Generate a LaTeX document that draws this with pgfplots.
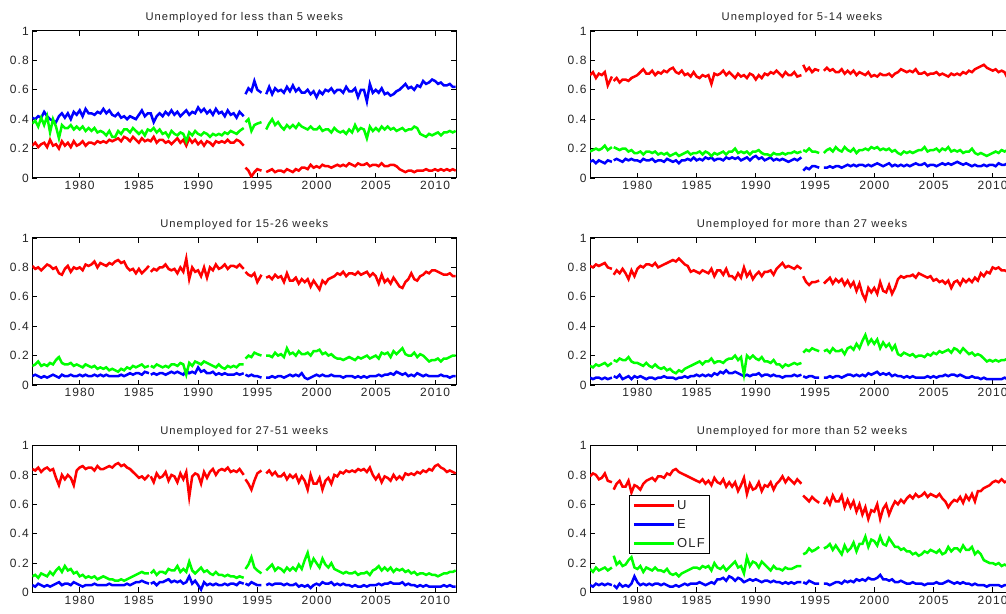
\documentclass[border=0pt]{standalone}
\usepackage{fontspec}
\setmainfont{Liberation Sans}
\newfontfamily\spfont[LetterSpace=9]{Liberation Sans}
\usepackage{pgfplots}
\usepackage{pgfplotstable}
\pgfplotsset{compat=1.18}

\pgfplotstableread{
x U E O
1976 .22 .41 .37
1976.25 .24 .40 .39
1976.5 .21 .42 .35
1976.75 .23 .41 .41
1977 .24 .45 .36
1977.25 .21 .42 .42
1977.5 .26 .40 .31
1977.75 .22 .39 .40
1978 .23 .38 .35
1978.25 .20 .42 .27
1978.5 .25 .44 .36
1978.75 .22 .41 .34
1979 .24 .44 .34
1979.25 .21 .40 .36
1979.5 .25 .45 .33
1979.75 .22 .43 .35
1980 .23 .46 .33
1980.25 .25 .42 .35
1980.5 .22 .47 .32
1980.75 .24 .44 .34
1981 .24 .44 .32
1981.25 .23 .43 .34
1981.5 .25 .45 .31
1981.75 .24 .44 .32
1982 .25 .47 .31
1982.25 .24 .44 .29
1982.5 .26 .46 .32
1982.75 .25 .43 .28
1983 .26 .42 .28
1983.25 .27 .44 .32
1983.5 .25 .41 .30
1983.75 .28 .42 .33
1984 .27 .40 .33
1984.25 .25 .42 .31
1984.5 .28 .41 .34
1984.75 .26 .40 .32
1985 .24 .43 .30
1985.25 .27 .46 .32
1985.5 .25 .42 .29
1985.75 .26 .44 .33
1986 .25 .44 .32
1986.25 .28 .38 .34
1986.5 .24 .42 .31
1986.75 .26 .44 .33
1987 .26 .42 .30
1987.25 .24 .45 .31
1987.5 .25 .43 .28
1987.75 .23 .46 .32
1988 .25 .43 .30
1988.25 .27 .45 .29
1988.5 .24 .42 .31
1988.75 .26 .44 .30
1989 .22 .46 .25
1989.25 .27 .43 .31
1989.5 .24 .45 .29
1989.75 .26 .44 .32
1990 .23 .48 .30
1990.25 .25 .45 .29
1990.5 .22 .47 .31
1990.75 .25 .44 .30
1991 .24 .46 .28
1991.25 .22 .43 .30
1991.5 .25 .47 .29
1991.75 .24 .44 .30
1992 .25 .45 .29
1992.25 .24 .42 .31
1992.5 .26 .46 .30
1992.75 .24 .43 .32
1993 .24 .44 .31
1993.25 .26 .41 .30
1993.5 .25 .45 .32
1993.85 .22 .42 .34
1993.93 nan nan nan
1994 .07 .57 .38
1994.25 .05 .61 .40
1994.5 .01 .59 .32
1994.75 .04 .66 .36
1995 .06 .60 .37
1995.35 .05 .58 .38
1995.5 nan nan nan
1995.75 .04 .57 .33
1996 .05 .62 .37
1996.25 .06 .57 .40
1996.5 .04 .61 .36
1996.75 .05 .59 .38
1997 .05 .60 .35
1997.25 .04 .58 .33
1997.5 .06 .62 .36
1997.75 .05 .59 .34
1998 .04 .63 .36
1998.25 .06 .59 .34
1998.5 .05 .61 .37
1998.75 .07 .58 .35
1999 .07 .58 .34
1999.25 .06 .60 .33
1999.5 .09 .57 .35
1999.75 .07 .59 .33
2000 .08 .55 .33
2000.25 .07 .59 .35
2000.5 .09 .57 .32
2000.75 .08 .60 .33
2001 .08 .59 .33
2001.25 .07 .61 .31
2001.5 .08 .58 .34
2001.75 .09 .60 .32
2002 .08 .60 .31
2002.25 .09 .58 .32
2002.5 .08 .62 .30
2002.75 .10 .59 .33
2003 .09 .59 .31
2003.25 .08 .61 .36
2003.5 .10 .55 .32
2003.75 .09 .60 .34
2004 .09 .60 .33
2004.25 .10 .52 .27
2004.5 .08 .64 .35
2004.75 .09 .58 .32
2005 .09 .60 .34
2005.25 .08 .58 .32
2005.5 .10 .61 .35
2005.75 .08 .57 .33
2006 .08 .58 .35
2006.25 .09 .56 .33
2006.5 .09 .57 .34
2006.75 .08 .59 .32
2007 .06 .60 .33
2007.25 .05 .62 .34
2007.5 .04 .64 .32
2007.75 .05 .61 .33
2008 .05 .62 .33
2008.25 .04 .60 .35
2008.5 .05 .63 .34
2008.75 .05 .62 .30
2009 .05 .66 .29
2009.25 .06 .64 .28
2009.5 .05 .65 .30
2009.75 .05 .67 .29
2010 .06 .66 .30
2010.25 .05 .64 .31
2010.5 .06 .65 .29
2010.75 .05 .63 .31
2011 .06 .63 .31
2011.25 .05 .64 .32
2011.5 .06 .62 .31
2011.75 .05 .62 .32
}\tA

\pgfplotstableread{
x U E O
1976 .70 .11 .18
1976.25 .72 .12 .19
1976.5 .68 .10 .20
1976.75 .71 .12 .19
1977 .70 .11 .20
1977.25 .72 .10 .22
1977.5 .63 .12 .19
1977.85 .69 .11 .21
1977.93 nan nan nan
1978 .66 .12 .21
1978.25 .68 .13 .20
1978.5 .65 .12 .19
1978.75 .67 .11 .20
1979 .67 .13 .20
1979.25 .66 .12 .18
1979.5 .68 .13 .19
1979.75 .69 .12 .17
1980 .70 .12 .17
1980.25 .72 .11 .18
1980.5 .74 .13 .16
1980.75 .71 .12 .18
1981 .71 .12 .18
1981.25 .73 .13 .17
1981.5 .70 .11 .18
1981.75 .72 .12 .16
1982 .71 .12 .17
1982.25 .73 .11 .16
1982.5 .72 .13 .17
1982.75 .74 .12 .15
1983 .75 .11 .16
1983.25 .72 .12 .17
1983.5 .71 .10 .15
1983.75 .73 .12 .16
1984 .70 .12 .17
1984.25 .71 .13 .18
1984.5 .69 .12 .16
1984.75 .72 .14 .17
1985 .69 .12 .17
1985.25 .68 .13 .18
1985.5 .70 .12 .16
1985.75 .69 .14 .18
1986 .70 .13 .17
1986.25 .64 .14 .15
1986.5 .71 .12 .17
1986.75 .70 .13 .16
1987 .71 .13 .17
1987.25 .73 .12 .18
1987.5 .70 .14 .16
1987.75 .72 .13 .18
1988 .70 .14 .18
1988.25 .68 .13 .20
1988.5 .71 .14 .17
1988.75 .69 .12 .18
1989 .70 .13 .17
1989.25 .68 .14 .18
1989.5 .71 .12 .16
1989.75 .70 .14 .18
1990 .67 .15 .18
1990.25 .70 .13 .19
1990.5 .68 .14 .17
1990.75 .71 .12 .16
1991 .70 .13 .16
1991.25 .72 .14 .15
1991.5 .71 .12 .17
1991.75 .73 .13 .16
1992 .71 .12 .16
1992.25 .69 .13 .17
1992.5 .72 .12 .16
1992.75 .70 .11 .17
1993 .70 .12 .17
1993.25 .72 .13 .18
1993.5 .69 .12 .17
1993.85 .70 .14 .18
1993.93 nan nan nan
1994 .77 .05 .19
1994.25 .73 .07 .18
1994.5 .75 .06 .20
1994.75 .72 .08 .18
1995 .74 .08 .18
1995.35 .73 .07 .17
1995.5 nan nan nan
1995.75 .73 .07 .17
1996 .75 .07 .19
1996.25 .73 .08 .20
1996.5 .74 .07 .18
1996.75 .72 .08 .21
1997 .72 .08 .19
1997.25 .74 .07 .18
1997.5 .71 .08 .21
1997.75 .73 .09 .19
1998 .71 .08 .18
1998.25 .73 .09 .20
1998.5 .70 .08 .17
1998.75 .72 .09 .19
1999 .71 .09 .19
1999.25 .70 .08 .20
1999.5 .72 .09 .19
1999.75 .69 .08 .21
2000 .70 .09 .20
2000.25 .69 .10 .21
2000.5 .71 .09 .19
2000.75 .70 .08 .20
2001 .70 .09 .19
2001.25 .71 .10 .20
2001.5 .69 .08 .18
2001.75 .71 .09 .19
2002 .72 .08 .17
2002.25 .74 .09 .16
2002.5 .73 .08 .18
2002.75 .72 .09 .17
2003 .73 .08 .18
2003.25 .72 .09 .17
2003.5 .74 .10 .18
2003.75 .71 .09 .19
2004 .71 .09 .19
2004.25 .72 .10 .21
2004.5 .70 .08 .18
2004.75 .71 .09 .19
2005 .71 .09 .19
2005.25 .72 .08 .20
2005.5 .70 .09 .18
2005.75 .71 .10 .20
2006 .70 .09 .19
2006.25 .69 .10 .21
2006.5 .71 .09 .18
2006.75 .70 .10 .19
2007 .71 .11 .18
2007.25 .70 .10 .19
2007.5 .72 .09 .17
2007.75 .71 .10 .18
2008 .73 .09 .18
2008.25 .72 .08 .20
2008.5 .74 .09 .17
2008.75 .75 .08 .16
2009 .76 .08 .17
2009.25 .77 .09 .16
2009.5 .75 .08 .15
2009.75 .74 .09 .16
2010 .73 .09 .17
2010.25 .74 .08 .18
2010.5 .72 .10 .17
2010.75 .73 .09 .19
2011 .72 .09 .18
2011.25 .68 .10 .19
2011.5 .73 .09 .18
2011.75 .72 .09 .18
}\tB

\pgfplotstableread{
x U E O
1976 .81 .06 .13
1976.25 .79 .07 .14
1976.5 .80 .06 .16
1976.75 .78 .05 .13
1977 .80 .06 .14
1977.25 .82 .05 .13
1977.5 .81 .06 .15
1977.75 .79 .07 .14
1978 .80 .06 .17
1978.25 .76 .05 .19
1978.5 .75 .07 .15
1978.75 .79 .06 .14
1979 .81 .06 .14
1979.25 .77 .07 .15
1979.5 .80 .06 .13
1979.75 .79 .06 .14
1980 .80 .07 .13
1980.25 .78 .06 .12
1980.5 .82 .07 .14
1980.75 .81 .06 .13
1981 .82 .06 .12
1981.25 .84 .07 .13
1981.5 .80 .06 .11
1981.75 .83 .07 .12
1982 .82 .06 .11
1982.25 .81 .07 .12
1982.5 .83 .06 .10
1982.75 .82 .06 .11
1983 .84 .06 .10
1983.25 .85 .06 .09
1983.5 .83 .07 .11
1983.75 .84 .06 .10
1984 .80 .07 .12
1984.25 .78 .08 .11
1984.5 .79 .07 .13
1984.75 .76 .08 .12
1985 .79 .08 .13
1985.25 .76 .07 .14
1985.5 .78 .09 .12
1985.85 .81 .08 .13
1985.93 nan nan nan
1986 .77 .07 .13
1986.25 .79 .08 .12
1986.5 .78 .07 .14
1986.75 .80 .08 .13
1987 .80 .08 .12
1987.25 .82 .07 .13
1987.5 .79 .08 .12
1987.75 .78 .09 .14
1988 .79 .08 .14
1988.25 .76 .09 .13
1988.5 .80 .08 .15
1988.75 .77 .07 .14
1989 .86 .10 .07
1989.25 .72 .08 .15
1989.5 .80 .09 .13
1989.75 .77 .08 .16
1990 .78 .12 .15
1990.25 .74 .09 .14
1990.5 .80 .10 .16
1990.75 .73 .08 .15
1991 .80 .08 .14
1991.25 .78 .09 .13
1991.5 .82 .07 .12
1991.75 .79 .08 .14
1992 .80 .07 .12
1992.25 .82 .08 .11
1992.5 .79 .07 .13
1992.75 .81 .07 .12
1993 .81 .07 .13
1993.25 .80 .08 .12
1993.5 .82 .07 .14
1993.85 .79 .08 .14
1993.93 nan nan nan
1994 .77 .07 .18
1994.25 .75 .06 .20
1994.5 .74 .07 .19
1994.75 .76 .06 .22
1995 .70 .06 .21
1995.35 .75 .05 .20
1995.5 nan nan nan
1995.75 .73 .05 .20
1996 .74 .05 .20
1996.25 .72 .06 .19
1996.5 .75 .05 .22
1996.75 .73 .06 .20
1997 .74 .06 .21
1997.25 .70 .05 .19
1997.5 .76 .06 .25
1997.75 .71 .07 .21
1998 .71 .06 .22
1998.25 .73 .07 .20
1998.5 .69 .06 .23
1998.75 .72 .08 .21
1999 .70 .05 .21
1999.25 .72 .04 .22
1999.5 .67 .05 .20
1999.75 .71 .06 .23
2000 .68 .07 .23
2000.25 .65 .06 .24
2000.5 .71 .07 .21
2000.75 .69 .06 .22
2001 .72 .06 .20
2001.25 .73 .07 .21
2001.5 .74 .06 .19
2001.75 .76 .06 .18
2002 .75 .06 .18
2002.25 .77 .05 .17
2002.5 .74 .06 .18
2002.75 .76 .06 .19
2003 .76 .06 .18
2003.25 .75 .05 .17
2003.5 .77 .06 .19
2003.75 .75 .05 .18
2004 .76 .06 .19
2004.25 .77 .05 .20
2004.5 .74 .06 .18
2004.75 .76 .06 .19
2005 .74 .06 .20
2005.25 .69 .07 .18
2005.5 .75 .06 .22
2005.75 .70 .07 .21
2006 .72 .07 .22
2006.25 .69 .08 .19
2006.5 .73 .07 .23
2006.75 .70 .09 .21
2007 .67 .08 .23
2007.25 .66 .07 .25
2007.5 .70 .08 .21
2007.75 .72 .06 .20
2008 .76 .07 .20
2008.25 .72 .06 .22
2008.5 .71 .08 .19
2008.75 .74 .07 .21
2009 .75 .06 .20
2009.25 .77 .07 .18
2009.5 .76 .06 .16
2009.75 .78 .06 .17
2010 .78 .06 .17
2010.25 .77 .06 .18
2010.5 .76 .07 .16
2010.75 .75 .06 .18
2011 .75 .06 .18
2011.25 .76 .05 .19
2011.5 .74 .06 .20
2011.75 .74 .06 .20
}\tC

\pgfplotstableread{
x U E O
1976 .81 .05 .13
1976.25 .80 .04 .12
1976.5 .82 .05 .14
1976.75 .81 .05 .13
1977 .82 .04 .14
1977.25 .83 .05 .15
1977.5 .80 .04 .13
1977.85 .79 .05 .15
1977.93 nan nan nan
1978 .75 .06 .17
1978.25 .78 .05 .16
1978.5 .76 .07 .18
1978.75 .79 .04 .17
1979 .76 .05 .17
1979.25 .72 .06 .19
1979.5 .78 .04 .16
1979.75 .74 .06 .15
1980 .79 .05 .15
1980.25 .81 .06 .14
1980.5 .80 .05 .13
1980.75 .82 .04 .15
1981 .82 .05 .13
1981.25 .81 .05 .12
1981.5 .83 .04 .14
1981.75 .80 .05 .12
1982 .81 .05 .11
1982.25 .82 .06 .12
1982.5 .83 .05 .10
1982.75 .84 .05 .11
1983 .85 .05 .09
1983.25 .84 .04 .08
1983.5 .86 .05 .10
1983.75 .84 .05 .09
1984 .82 .06 .11
1984.25 .81 .05 .12
1984.5 .77 .06 .13
1984.75 .78 .06 .14
1985 .77 .07 .15
1985.25 .76 .06 .16
1985.5 .78 .07 .14
1985.75 .77 .06 .16
1986 .76 .07 .16
1986.25 .79 .06 .18
1986.5 .74 .08 .15
1986.75 .78 .07 .16
1987 .78 .09 .16
1987.25 .75 .08 .15
1987.5 .79 .10 .17
1987.75 .74 .08 .18
1988 .74 .08 .18
1988.25 .72 .09 .20
1988.5 .76 .08 .17
1988.75 .73 .07 .19
1989 .80 .06 .07
1989.25 .74 .07 .20
1989.5 .77 .06 .18
1989.75 .72 .07 .20
1990 .75 .07 .18
1990.25 .77 .08 .17
1990.5 .74 .06 .19
1990.75 .77 .07 .16
1991 .77 .07 .16
1991.25 .78 .06 .15
1991.5 .75 .07 .17
1991.75 .79 .06 .14
1992 .81 .06 .14
1992.25 .83 .05 .12
1992.5 .80 .06 .14
1992.75 .81 .06 .13
1993 .80 .06 .14
1993.25 .79 .07 .15
1993.5 .81 .06 .14
1993.85 .79 .07 .15
1993.93 nan nan nan
1994 .74 .06 .22
1994.25 .70 .05 .24
1994.5 .68 .06 .23
1994.75 .70 .06 .25
1995 .70 .05 .24
1995.35 .71 .05 .23
1995.5 nan nan nan
1995.75 .69 .05 .23
1996 .71 .05 .24
1996.25 .73 .06 .22
1996.5 .69 .05 .25
1996.75 .72 .06 .23
1997 .70 .06 .23
1997.25 .72 .05 .24
1997.5 .68 .06 .21
1997.75 .71 .07 .25
1998 .67 .07 .26
1998.25 .70 .06 .24
1998.5 .64 .07 .28
1998.75 .69 .06 .25
1999 .62 .07 .30
1999.25 .58 .06 .34
1999.5 .66 .08 .28
1999.75 .63 .07 .31
2000 .66 .08 .28
2000.25 .62 .09 .31
2000.5 .70 .07 .25
2000.75 .64 .08 .29
2001 .63 .07 .26
2001.25 .68 .08 .28
2001.5 .62 .06 .24
2001.75 .66 .07 .27
2002 .72 .06 .21
2002.25 .74 .06 .20
2002.5 .73 .05 .22
2002.75 .74 .06 .21
2003 .74 .05 .20
2003.25 .75 .06 .21
2003.5 .73 .05 .19
2003.75 .76 .05 .20
2004 .75 .05 .20
2004.25 .74 .05 .19
2004.5 .73 .06 .21
2004.75 .74 .05 .20
2005 .71 .06 .22
2005.25 .72 .05 .21
2005.5 .70 .06 .23
2005.75 .71 .06 .22
2006 .69 .07 .23
2006.25 .71 .06 .24
2006.5 .66 .07 .22
2006.75 .70 .07 .25
2007 .71 .06 .24
2007.25 .68 .07 .22
2007.5 .72 .06 .25
2007.75 .70 .05 .23
2008 .72 .05 .21
2008.25 .70 .06 .22
2008.5 .73 .05 .20
2008.75 .71 .05 .21
2009 .76 .04 .20
2009.25 .74 .05 .18
2009.5 .77 .04 .16
2009.75 .76 .04 .17
2010 .80 .04 .16
2010.25 .79 .04 .17
2010.5 .80 .04 .16
2010.75 .78 .04 .17
2011 .78 .05 .17
2011.25 .77 .04 .18
2011.5 .78 .05 .17
2011.75 .77 .05 .18
}\tD

\pgfplotstableread{
x U E O
1976 .84 .05 .11
1976.25 .83 .04 .12
1976.5 .85 .06 .10
1976.75 .82 .05 .13
1977 .84 .04 .12
1977.25 .85 .05 .11
1977.5 .83 .04 .14
1977.75 .84 .05 .12
1978 .78 .06 .15
1978.25 .73 .07 .17
1978.5 .80 .05 .14
1978.75 .77 .06 .18
1979 .80 .06 .15
1979.25 .78 .05 .16
1979.5 .73 .07 .13
1979.75 .83 .06 .14
1980 .85 .05 .11
1980.25 .86 .04 .12
1980.5 .84 .05 .10
1980.75 .85 .05 .11
1981 .85 .05 .10
1981.25 .83 .06 .11
1981.5 .86 .05 .09
1981.75 .84 .05 .10
1982 .84 .05 .11
1982.25 .85 .05 .10
1982.5 .86 .06 .09
1982.75 .85 .05 .09
1983 .87 .05 .08
1983.25 .88 .05 .08
1983.5 .86 .05 .09
1983.75 .87 .05 .08
1984 .85 .06 .09
1984.25 .84 .05 .10
1984.5 .82 .06 .11
1984.75 .80 .07 .12
1985 .78 .07 .13
1985.25 .79 .08 .14
1985.5 .77 .07 .13
1985.85 .80 .06 .13
1985.93 nan nan nan
1986 .79 .06 .13
1986.25 .75 .07 .15
1986.5 .81 .05 .12
1986.75 .78 .07 .14
1987 .79 .07 .14
1987.25 .82 .08 .13
1987.5 .76 .09 .16
1987.75 .80 .07 .15
1988 .79 .08 .15
1988.25 .75 .07 .18
1988.5 .81 .08 .14
1988.75 .77 .06 .16
1989 .82 .07 .14
1989.25 .65 .11 .21
1989.5 .79 .06 .15
1989.75 .81 .08 .13
1990 .80 .05 .15
1990.25 .74 .02 .17
1990.5 .82 .07 .14
1990.75 .78 .05 .15
1991 .82 .06 .13
1991.25 .84 .05 .12
1991.5 .80 .06 .14
1991.75 .83 .05 .12
1992 .84 .05 .12
1992.25 .83 .06 .11
1992.5 .85 .05 .12
1992.75 .82 .06 .11
1993 .83 .06 .11
1993.25 .82 .05 .10
1993.5 .84 .07 .11
1993.85 .80 .06 .10
1993.93 nan nan nan
1994 .77 .06 .16
1994.25 .74 .05 .19
1994.5 .70 .07 .24
1994.75 .76 .06 .17
1995 .81 .05 .15
1995.35 .83 .05 .13
1995.5 nan nan nan
1995.75 .81 .05 .15
1996 .83 .06 .17
1996.25 .80 .05 .19
1996.5 .82 .06 .15
1996.75 .79 .06 .17
1997 .79 .06 .16
1997.25 .81 .05 .14
1997.5 .77 .06 .17
1997.75 .80 .05 .15
1998 .78 .05 .17
1998.25 .80 .06 .15
1998.5 .75 .04 .19
1998.75 .79 .05 .16
1999 .76 .04 .22
1999.25 .70 .05 .27
1999.5 .80 .03 .18
1999.75 .74 .05 .23
2000 .74 .06 .20
2000.25 .78 .05 .17
2000.5 .70 .07 .23
2000.75 .76 .06 .19
2001 .78 .06 .17
2001.25 .74 .07 .20
2001.5 .80 .05 .16
2001.75 .79 .06 .15
2002 .82 .05 .14
2002.25 .81 .06 .13
2002.5 .83 .05 .14
2002.75 .82 .05 .13
2003 .83 .04 .13
2003.25 .82 .05 .14
2003.5 .84 .04 .12
2003.75 .83 .04 .13
2004 .84 .05 .13
2004.25 .82 .04 .14
2004.5 .85 .05 .12
2004.75 .80 .05 .15
2005 .77 .05 .16
2005.25 .80 .06 .18
2005.5 .75 .05 .15
2005.75 .79 .06 .17
2006 .78 .06 .15
2006.25 .76 .07 .17
2006.5 .80 .06 .14
2006.75 .77 .06 .16
2007 .79 .06 .15
2007.25 .77 .07 .16
2007.5 .81 .05 .14
2007.75 .80 .06 .15
2008 .81 .05 .13
2008.25 .80 .05 .14
2008.5 .82 .04 .12
2008.75 .81 .05 .13
2009 .83 .04 .13
2009.25 .82 .05 .12
2009.5 .84 .04 .13
2009.75 .83 .04 .12
2010 .86 .04 .12
2010.25 .87 .04 .11
2010.5 .85 .04 .12
2010.75 .84 .05 .13
2011 .82 .04 .13
2011.25 .83 .05 .14
2011.5 .82 .04 .14
2011.75 .81 .04 .15
}\tE

\pgfplotstableread{
x U E O
1976 .79 .05 .16
1976.25 .81 .04 .14
1976.5 .80 .06 .17
1976.75 .77 .05 .15
1977 .78 .06 .16
1977.25 .81 .05 .17
1977.5 .76 .06 .15
1977.85 .75 .05 .17
1977.93 nan nan nan
1978 .70 .05 .25
1978.25 .74 .03 .19
1978.5 .76 .06 .21
1978.75 .72 .04 .18
1979 .72 .05 .19
1979.25 .76 .04 .22
1979.5 .68 .06 .24
1979.75 .73 .11 .17
1980 .72 .07 .16
1980.25 .70 .05 .18
1980.5 .74 .06 .14
1980.75 .76 .05 .17
1981 .77 .06 .16
1981.25 .78 .05 .15
1981.5 .76 .06 .17
1981.75 .79 .06 .15
1982 .79 .05 .15
1982.25 .78 .06 .14
1982.5 .81 .05 .16
1982.75 .80 .04 .13
1983 .83 .04 .12
1983.25 .84 .05 .13
1983.5 .82 .04 .11
1983.75 .81 .05 .13
1984 .80 .06 .14
1984.25 .79 .05 .15
1984.5 .78 .06 .16
1984.75 .77 .06 .17
1985 .76 .06 .17
1985.25 .75 .07 .16
1985.5 .77 .06 .18
1985.75 .74 .05 .17
1986 .76 .06 .18
1986.25 .73 .07 .15
1986.5 .78 .06 .20
1986.75 .75 .09 .17
1987 .74 .09 .16
1987.25 .77 .10 .18
1987.5 .72 .08 .15
1987.75 .75 .11 .17
1988 .72 .10 .19
1988.25 .75 .08 .21
1988.5 .69 .10 .17
1988.75 .73 .09 .18
1989 .78 .07 .13
1989.25 .67 .08 .24
1989.5 .74 .09 .18
1989.75 .70 .08 .21
1990 .71 .09 .20
1990.25 .75 .08 .17
1990.5 .69 .07 .21
1990.75 .73 .08 .19
1991 .72 .08 .17
1991.25 .75 .07 .15
1991.5 .70 .08 .18
1991.75 .74 .07 .16
1992 .76 .07 .16
1992.25 .79 .06 .15
1992.5 .75 .07 .17
1992.75 .78 .06 .16
1993 .76 .07 .16
1993.25 .74 .06 .17
1993.5 .77 .07 .18
1993.85 .74 .07 .18
1993.93 nan nan nan
1994 .66 .07 .26
1994.25 .64 .06 .27
1994.5 .62 .08 .30
1994.75 .65 .07 .28
1995 .63 .06 .29
1995.35 .61 .06 .31
1995.5 nan nan nan
1995.75 .60 .06 .30
1996 .64 .06 .31
1996.25 .60 .05 .33
1996.5 .66 .06 .29
1996.75 .62 .07 .32
1997 .62 .07 .29
1997.25 .66 .06 .26
1997.5 .58 .08 .32
1997.75 .63 .07 .28
1998 .58 .08 .30
1998.25 .62 .07 .34
1998.5 .55 .09 .28
1998.75 .60 .08 .33
1999 .53 .09 .33
1999.25 .58 .08 .38
1999.5 .50 .10 .31
1999.75 .56 .09 .36
2000 .55 .09 .35
2000.25 .60 .10 .32
2000.5 .50 .12 .38
2000.75 .57 .09 .33
2001 .60 .09 .32
2001.25 .53 .08 .37
2001.5 .58 .09 .34
2001.75 .62 .07 .31
2002 .60 .07 .31
2002.25 .63 .08 .29
2002.5 .61 .07 .30
2002.75 .64 .06 .28
2003 .66 .06 .28
2003.25 .64 .07 .26
2003.5 .67 .06 .27
2003.75 .65 .06 .25
2004 .66 .06 .26
2004.25 .68 .05 .28
2004.5 .65 .06 .27
2004.75 .67 .06 .29
2005 .66 .06 .28
2005.25 .65 .07 .27
2005.5 .67 .06 .29
2005.75 .64 .06 .26
2006 .62 .07 .27
2006.25 .58 .08 .31
2006.5 .61 .07 .28
2006.75 .63 .06 .30
2007 .62 .07 .30
2007.25 .65 .06 .28
2007.5 .61 .07 .32
2007.75 .66 .06 .29
2008 .63 .06 .29
2008.25 .67 .05 .31
2008.5 .62 .06 .26
2008.75 .69 .05 .28
2009 .69 .05 .26
2009.25 .71 .05 .22
2009.5 .72 .04 .21
2009.75 .73 .05 .20
2010 .75 .05 .20
2010.25 .76 .05 .19
2010.5 .75 .05 .20
2010.75 .77 .04 .18
2011 .75 .05 .19
2011.25 .76 .05 .18
2011.5 .75 .05 .19
2011.75 .74 .05 .19
}\tF

\definecolor{txt}{RGB}{38,38,38}
\pgfplotsset{
  panel/.style={
    scale only axis, width=424pt, height=147pt,
    xmin=1976, xmax=2011.8, ymin=0, ymax=1,
    xtick={1980,1985,1990,1995,2000,2005,2010},
    xticklabels={1980,1985,1990,1995,2000,2005,2010},
    ytick={0,0.2,0.4,0.6,0.8,1},
    yticklabels={0,0.2,0.4,0.6,0.8,1},
    tick align=inside, major tick length=5pt,
    axis line style={line width=1pt, black},
    every tick/.style={black, line width=0.8pt},
    tick label style={font=\fontsize{12}{14}\spfont, text=txt},
    title style={font=\fontsize{11.2}{13}\spfont, text=txt, yshift=-1pt},
    unbounded coords=jump,
    every axis plot/.append style={line width=2.5pt, mark=none},
  },
  pu/.style={color={rgb,1:red,1;green,0;blue,0}},
  pe/.style={color={rgb,1:red,0;green,0;blue,1}},
  po/.style={color={rgb,1:red,0;green,1;blue,0}},
}

\begin{document}
\begin{tikzpicture}
\useasboundingbox (0,0) rectangle (1006pt,613pt);
\clip (0,0) rectangle (1006pt,613pt);

\begin{axis}[panel, at={(32.3pt,435pt)}, anchor=south west, title={Unemployed for less than 5 weeks}]
\addplot[pu] table[x=x,y=U]{\tA};
\addplot[pe] table[x=x,y=E]{\tA};
\addplot[po] table[x=x,y=O]{\tA};
\end{axis}

\begin{axis}[panel, at={(590pt,435pt)}, anchor=south west, title={Unemployed for 5-14 weeks}]
\addplot[pu] table[x=x,y=U]{\tB};
\addplot[pe] table[x=x,y=E]{\tB};
\addplot[po] table[x=x,y=O]{\tB};
\end{axis}

\begin{axis}[panel, at={(32.3pt,228pt)}, anchor=south west, title={Unemployed for 15-26 weeks}]
\addplot[pu] table[x=x,y=U]{\tC};
\addplot[pe] table[x=x,y=E]{\tC};
\addplot[po] table[x=x,y=O]{\tC};
\end{axis}

\begin{axis}[panel, at={(590pt,228pt)}, anchor=south west, title={Unemployed for more than 27 weeks}]
\addplot[pu] table[x=x,y=U]{\tD};
\addplot[pe] table[x=x,y=E]{\tD};
\addplot[po] table[x=x,y=O]{\tD};
\end{axis}

\begin{axis}[panel, at={(32.3pt,20.5pt)}, anchor=south west, title={Unemployed for 27-51 weeks}]
\addplot[pu] table[x=x,y=U]{\tE};
\addplot[pe] table[x=x,y=E]{\tE};
\addplot[po] table[x=x,y=O]{\tE};
\end{axis}

\begin{axis}[panel, at={(590pt,20.5pt)}, anchor=south west, title={Unemployed for more than 52 weeks},
  legend style={at={(0.092,0.666)}, anchor=north west, draw=black, line width=1.2pt,
    font=\fontsize{13}{13}\spfont, text=txt, fill=white, inner xsep=3pt, inner ysep=3pt,
    row sep=4.5pt, cells={anchor=west}},
  legend image code/.code={\draw[#1] (0pt,0pt) -- (40pt,0pt);}]
\addplot[pu] table[x=x,y=U]{\tF};
\addplot[pe] table[x=x,y=E]{\tF};
\addplot[po] table[x=x,y=O]{\tF};
\legend{U,E,OLF}
\end{axis}
\end{tikzpicture}
\end{document}
